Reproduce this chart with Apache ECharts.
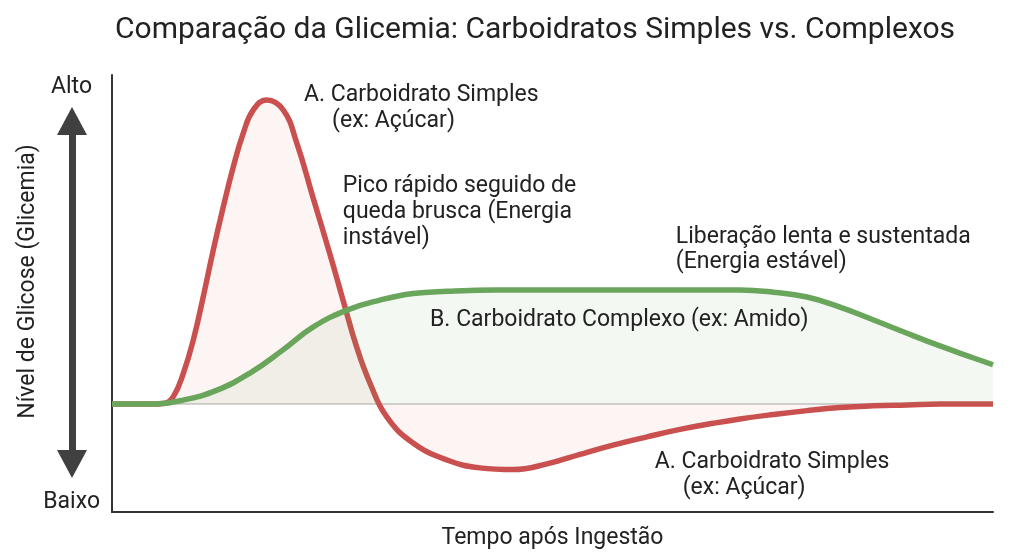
<!DOCTYPE html>
<html>
<head>
<meta charset="utf-8">
<script src="https://cdn.jsdelivr.net/npm/echarts@6/dist/echarts.min.js"></script>
<style>html,body{margin:0;padding:0;background:#fff}#c{width:1024px;height:559px}</style>
</head>
<body>
<div id="c"></div>
<script>
// ---- data ----
const TITLE = 'Comparação da Glicemia: Carboidratos Simples vs. Complexos';
const X_NAME = 'Tempo após Ingestão';
const Y_NAME = 'Nível de Glicose (Glicemia)';
const Y_TICK_LABELS = { low: 'Baixo', high: 'Alto' };
const BASELINE = 24.7;
const simpleT = [0, 4.3, 6.0, 6.96, 8.09, 9.23, 10.36, 11.5, 12.63, 13.77, 14.9, 16.04, 17.56, 19.44, 20.96, 22.81, 24.74, 26.22, 27.81, 29.28, 31.21, 34.17, 38.02, 41.77, 45.52, 49.38, 53.12, 56.87, 60.73, 64.47, 68.22, 71.28, 75.03, 78.89, 82.63, 86.38, 90.24, 93.98, 100];
const simpleV = [24.7, 24.7, 24.9, 26.4, 31.7, 39.4, 49.3, 60.0, 69.8, 79.0, 86.7, 92.0, 94.3, 92.0, 84.5, 72.0, 59.0, 48.5, 37.5, 29.5, 21.7, 15.8, 11.9, 10.1, 9.7, 11.0, 13.2, 15.3, 17.2, 18.9, 20.3, 21.3, 22.3, 23.2, 23.9, 24.3, 24.5, 24.7, 24.7];
const complexT = [0, 4.3, 8.06, 11.92, 15.66, 19.41, 22.81, 26.67, 30.42, 34.17, 38.02, 43.7, 55.4, 71.28, 75.03, 78.89, 82.63, 86.38, 90.24, 93.98, 97.73, 100];
const complexV = [24.7, 24.7, 25.6, 27.9, 31.8, 37.1, 42.3, 46.2, 48.5, 50.0, 50.5, 50.8, 50.8, 50.8, 50.3, 49.2, 46.9, 44.0, 40.9, 38.0, 35.3, 33.7];
const annSimpleTop = ['A. Carboidrato Simples', '(ex: Açúcar)'];
const annPeak = ['Pico rápido seguido de', 'queda brusca (Energia', 'instável)'];
const annSlow = ['Liberação lenta e sustentada', '(Energia estável)'];
const annComplex = 'B. Carboidrato Complexo (ex: Amido)';
const annSimpleBottom = ['A. Carboidrato Simples', '(ex: Açúcar)'];

const zip = (a, b) => a.map((v, i) => [v, b[i]]);
const FONT = 'Roboto, "Noto Sans", sans-serif';
const TXT = '#222';
const FS = 23;

function annot(coord, text, extra) {
  return {
    coord: coord, symbol: 'circle', symbolSize: 0,
    label: Object.assign({
      show: true, position: 'inside', align: 'left', verticalAlign: 'middle',
      color: TXT, fontSize: FS, fontFamily: FONT, lineHeight: 26, formatter: text
    }, extra || {})
  };
}
const twoLineRich = {
  a: { fontFamily: FONT, fontSize: FS, color: TXT, lineHeight: 26 },
  b: { fontFamily: FONT, fontSize: FS, color: TXT, lineHeight: 26, padding: [0, 0, 0, 28] }
};

const chart = echarts.init(document.getElementById('c'));
chart.setOption({
  animation: false,
  backgroundColor: '#fff',
  title: {
    text: TITLE, left: 110, top: 10,
    textStyle: { fontFamily: FONT, fontSize: 30, fontWeight: 'normal', color: TXT }
  },
  grid: [
    { left: 112, right: 31, top: 75, bottom: 47 },
    { left: 72, width: 10, top: 121, bottom: 95 }
  ],
  xAxis: [
    {
      type: 'value', gridIndex: 0, min: 0, max: 100,
      name: X_NAME, nameLocation: 'middle', nameGap: 15,
      nameTextStyle: { fontFamily: FONT, fontSize: FS, color: TXT },
      axisLine: { show: true, lineStyle: { color: '#333', width: 2 } },
      axisTick: { show: false }, axisLabel: { show: false }, splitLine: { show: false }
    },
    { type: 'value', gridIndex: 1, min: 0, max: 100, show: false }
  ],
  yAxis: [
    {
      type: 'value', gridIndex: 0, min: 0, max: 100, interval: 100,
      name: Y_NAME, nameLocation: 'middle', nameGap: 72, nameRotate: 90, nameMoveOverlap: false,
      nameTextStyle: { fontFamily: FONT, fontSize: FS, color: TXT, padding: [0, 0, 0, 24] },
      axisLine: { show: true, lineStyle: { color: '#333', width: 2 } },
      axisTick: { show: false }, splitLine: { show: false },
      axisLabel: {
        margin: 12, fontFamily: FONT, fontSize: FS, color: TXT,
        formatter: v => v === 0 ? '{lo|' + Y_TICK_LABELS.low + '}' : '{hi|' + Y_TICK_LABELS.high + '}',
        rich: {
          lo: { fontFamily: FONT, fontSize: FS, color: TXT, padding: [0, 0, 20, 0] },
          hi: { fontFamily: FONT, fontSize: FS, color: TXT, padding: [24, 8, 0, 0] }
        }
      }
    },
    {
      type: 'value', gridIndex: 1, min: 0, max: 100, position: 'left',
      axisLine: { show: true, symbol: ['triangle', 'triangle'], symbolSize: [30, 28],
        lineStyle: { color: '#404040', width: 7 } },
      axisTick: { show: false }, axisLabel: { show: false }, splitLine: { show: false }
    }
  ],
  series: [
    {
      name: 'A. Carboidrato Simples', type: 'line', xAxisIndex: 0, yAxisIndex: 0,
      data: zip(simpleT, simpleV), smooth: 0.45, showSymbol: false, z: 2,
      lineStyle: { color: '#c9504e', width: 5.5 },
      itemStyle: { color: '#c9504e' },
      areaStyle: { origin: BASELINE, color: 'rgba(225,110,110,0.11)' },
      markLine: {
        silent: true, symbol: 'none', z: 1, label: { show: false },
        lineStyle: { color: '#c6c6c6', width: 1.5, type: 'solid' },
        data: [{ yAxis: BASELINE }]
      },
      markPoint: {
        silent: true,
        data: [
          annot([21.8, 92.4], '{a|' + annSimpleTop[0] + '}\n{b|' + annSimpleTop[1] + '}', { rich: twoLineRich }),
          annot([26.2, 68.6], annPeak.join('\n')),
          annot([61.6, 8.5], '{a|' + annSimpleBottom[0] + '}\n{b|' + annSimpleBottom[1] + '}', { rich: twoLineRich })
        ]
      }
    },
    {
      name: 'B. Carboidrato Complexo', type: 'line', xAxisIndex: 0, yAxisIndex: 0,
      data: zip(complexT, complexV), smooth: 0.45, showSymbol: false, z: 3,
      lineStyle: { color: '#69a55a', width: 5.5 },
      itemStyle: { color: '#69a55a' },
      areaStyle: { origin: BASELINE, color: 'rgba(120,170,100,0.12)' },
      markPoint: {
        silent: true,
        data: [
          annot([64.0, 60.0], annSlow.join('\n'), { lineHeight: 25 }),
          annot([36.1, 43.9], annComplex)
        ]
      }
    }
  ]
});
</script>
</body>
</html>
